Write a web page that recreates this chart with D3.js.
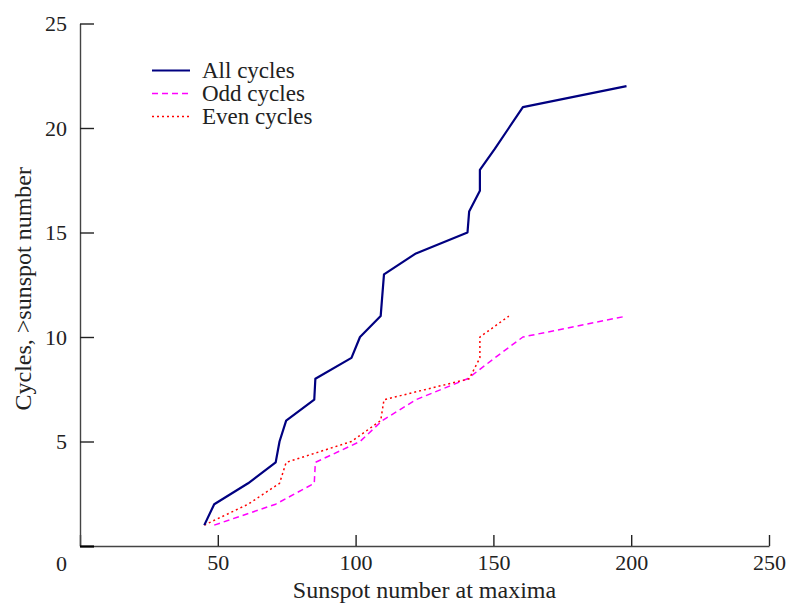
<!DOCTYPE html>
<html>
<head>
<meta charset="utf-8">
<script src="https://cdn.jsdelivr.net/npm/d3@7"></script>
<style>
  html, body { margin: 0; padding: 0; background: #fff; }
  svg { display: block; }
  svg text { font-family: "Liberation Serif", "Times New Roman", serif; fill: #222; }
</style>
</head>
<body>
<div id="chart"></div>
<script>
// ---- data ----
const allX  = [45.1, 48.7, 61, 71, 72.4, 74.8, 85, 85.4, 98.5, 101.6, 109.1, 109.7, 110.3, 121.9, 140.6, 141.2, 145.1, 145.1, 150.5, 155.6, 160.7, 198.3];
const allY  = [1, 2, 3, 4, 5, 6, 7, 8, 9, 10, 11, 12, 13, 14, 15, 16, 17, 18, 19, 20, 21, 22];
const oddX  = [48.7, 71, 85, 85.4, 101.6, 109.7, 121.9, 140.6, 150.5, 160.7, 198.3];
const oddY  = [1, 2, 3, 4, 5, 6, 7, 8, 9, 10, 11];
const evenX = [45.1, 61, 72.4, 74.8, 98.5, 109.1, 110.3, 141.2, 145.1, 145.1, 155.6];
const evenY = [1, 2, 3, 4, 5, 6, 7, 8, 9, 10, 11];
const xTicks = [0, 50, 100, 150, 200, 250];
const yTicks = [0, 5, 10, 15, 20, 25];
const seriesNames = ["All cycles", "Odd cycles", "Even cycles"];
const xTitle = "Sunspot number at maxima";
const yTitle = "Cycles, >sunspot number";

// ---- layout ----
const W = 791, H = 606;
const FONT = '"Liberation Serif", "Times New Roman", serif';
const svg = d3.select("#chart").append("svg").attr("width", W).attr("height", H)
  .attr("font-family", FONT);

const x = d3.scaleLinear().domain([0, 250]).range([80, 769]);
const y = d3.scaleLinear().domain([0, 25]).range([546, 23.5]);

// axes
const xAxis = d3.axisBottom(x).tickValues(xTicks)
  .tickFormat(d => d === 0 ? "" : d3.format("d")(d))
  .tickSizeInner(-11).tickSizeOuter(0).tickPadding(8);
const yAxis = d3.axisLeft(y).tickValues(yTicks)
  .tickFormat(d => d3.format("d")(d))
  .tickSizeInner(-14).tickSizeOuter(0).tickPadding(13);

const gx = svg.append("g").attr("transform", `translate(0,${y(0)})`).call(xAxis);
const gy = svg.append("g").attr("transform", `translate(${x(0)},0)`).call(yAxis);

[gx, gy].forEach(g => {
  g.attr("font-family", FONT).attr("font-size", 22);
  g.select(".domain").attr("stroke", "#444").attr("stroke-width", 1.4);
  g.selectAll(".tick line").attr("stroke", "#222").attr("stroke-width", 1.4);
  g.selectAll(".tick text").attr("font-family", FONT).attr("font-size", 22).attr("fill", "#222");
});
// origin label sits a little below the corner
gy.selectAll(".tick").filter(d => d === 0).select("text").attr("dy", "1.1em");
gy.selectAll(".tick").filter(d => d === 0).select("line").attr("stroke", "#000").attr("stroke-width", 2.2);

// titles
svg.append("text").attr("x", (x(0) + x(250)) / 2).attr("y", 598)
  .attr("text-anchor", "middle").attr("font-size", 24).text(xTitle);
svg.append("text").attr("transform", `translate(31,${(y(0) + y(25)) / 2 + 4}) rotate(-90)`)
  .attr("text-anchor", "middle").attr("font-size", 24).text(yTitle);

// lines
const line = d3.line().x(d => x(d[0])).y(d => y(d[1]));
const styles = [
  { color: "#000080", width: 2.2, dash: null },
  { color: "#ff00ff", width: 1.5, dash: "6,4" },
  { color: "#ff0000", width: 1.5, dash: "2,3" }
];
const series = [
  d3.zip(allX, allY),
  d3.zip(oddX, oddY),
  d3.zip(evenX, evenY)
];
// draw odd and even first, all on top
[1, 2, 0].forEach(i => {
  svg.append("path").datum(series[i]).attr("d", line)
    .attr("fill", "none").attr("stroke", styles[i].color)
    .attr("stroke-width", styles[i].width)
    .attr("stroke-dasharray", styles[i].dash)
    .attr("stroke-linejoin", "round");
});

// legend
const legY = [70.5, 93.5, 116.5];
seriesNames.forEach((name, i) => {
  svg.append("line").attr("x1", 152).attr("x2", 190).attr("y1", legY[i]).attr("y2", legY[i])
    .attr("stroke", styles[i].color).attr("stroke-width", styles[i].width)
    .attr("stroke-dasharray", styles[i].dash);
  svg.append("text").attr("x", 202).attr("y", legY[i]).attr("dy", "0.32em")
    .attr("font-size", 23).text(name);
});
</script>
</body>
</html>
